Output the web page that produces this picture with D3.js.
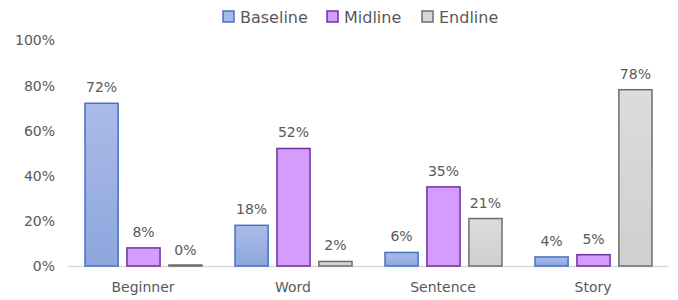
<!DOCTYPE html>
<html><head><meta charset="utf-8">
<script src="https://cdn.jsdelivr.net/npm/d3@7"></script>
<style>body{margin:0;background:#fff}svg{display:block}</style>
</head><body><svg id="c" width="678" height="300"></svg>
<script>
const categories = ["Beginner","Word","Sentence","Story"];
const seriesNames = ["Baseline","Midline","Endline"];
const baseline = [72,18,6,4];
const midline = [8,52,35,5];
const endline = [0,2,21,78];
const yTicks = [0,20,40,60,80,100];

const series = [baseline, midline, endline];
const fills = ["url(#gB)","#d49dfd","url(#gE)"];
const strokes = ["#4472c4","#7030a0","#6e6e6e"];
const legendFills = ["#a7b9e6","#d29bff","#d6d6d6"];

const svg = d3.select("#c");
const defs = svg.append("defs");
const gB = defs.append("linearGradient").attr("id","gB").attr("x1",0).attr("y1",0).attr("x2",0).attr("y2",1);
gB.append("stop").attr("offset","0%").attr("stop-color","#abbbe8");
gB.append("stop").attr("offset","100%").attr("stop-color","#8da6dd");
const gE = defs.append("linearGradient").attr("id","gE").attr("x1",0).attr("y1",0).attr("x2",0).attr("y2",1);
gE.append("stop").attr("offset","0%").attr("stop-color","#dcdcdc");
gE.append("stop").attr("offset","100%").attr("stop-color","#cfcfcf");

const font = "'DejaVu Sans', sans-serif";
const txt = "#595959";
const x0 = d3.scaleBand().domain(categories).range([68,668]).paddingInner(0).paddingOuter(0);
const x1 = d3.scaleBand().domain(seriesNames).range([17,134]).paddingInner(0.21).paddingOuter(0);
const y = d3.scaleLinear().domain([0,100]).range([266,40]);

// y axis labels
const yAxis = d3.axisLeft(y).tickValues(yTicks).tickFormat(d=>d+"%").tickSize(0).tickPadding(0);
const ga = svg.append("g").attr("transform","translate(55,0)").call(yAxis);
ga.select(".domain").remove();
ga.selectAll("text").attr("font-family",font).attr("font-size",14).attr("fill",txt).attr("dy","0.35em");

// x axis
const xAxis = d3.axisBottom(x0).tickSize(0).tickPadding(16);
const gx = svg.append("g").attr("transform","translate(0,266)").call(xAxis);
gx.select(".domain").attr("stroke","#d9d9d9").attr("stroke-width",1.5);
gx.selectAll("text").attr("font-family",font).attr("font-size",14).attr("fill",txt);

// bars
categories.forEach((c,ci)=>{
  series.forEach((s,si)=>{
    const v = s[ci];
    const bx = x0(c)+x1(seriesNames[si]);
    const bw = x1.bandwidth();
    const top = y(v);
    svg.append("rect").attr("x",bx).attr("y",Math.min(top,y(0)-1)).attr("width",bw)
      .attr("height",Math.max(y(0)-top,1)).attr("fill",fills[si]).attr("stroke",strokes[si]).attr("stroke-width",1.5);
    svg.append("text").attr("x",bx+bw/2).attr("y",top-11).attr("text-anchor","middle")
      .attr("font-family",font).attr("font-size",14).attr("fill",txt).text(v+"%");
  });
});

// legend
const legX = [223,327,422];
seriesNames.forEach((n,i)=>{
  svg.append("rect").attr("x",legX[i]).attr("y",11).attr("width",11).attr("height",11)
    .attr("fill",legendFills[i]).attr("stroke",strokes[i]).attr("stroke-width",1.5);
  svg.append("text").attr("x",legX[i]+17).attr("y",17).attr("dy","0.35em")
    .attr("font-family",font).attr("font-size",16).attr("fill",txt).text(n);
});
</script></body></html>
